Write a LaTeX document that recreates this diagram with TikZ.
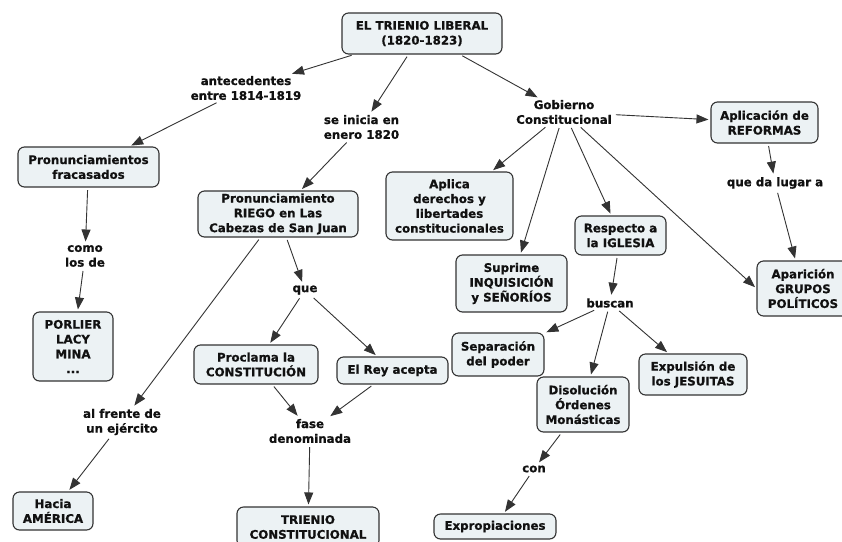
\documentclass[tikz,border=0pt]{standalone}
\usepackage{fontspec}
\setmainfont{DejaVu Sans}[BoldFeatures={FakeBold=0.8}]
\usetikzlibrary{arrows.meta}
\definecolor{boxfill}{HTML}{ECF2F4}
\definecolor{boxline}{HTML}{333333}
\definecolor{linec}{HTML}{333333}
\definecolor{txt}{HTML}{111111}
\tikzset{
  every node/.style={font=\bfseries\fontsize{11.8}{14.8}\selectfont, text=txt, align=center},
  box/.style={draw=boxline, fill=boxfill, line width=1.1pt, rounded corners=6.5pt, inner sep=2pt},
  lbl/.style={inner sep=1.5pt},
  arr/.style={draw=linec, line width=0.9pt, -{Triangle[length=12pt,width=9pt]}, shorten <=2.5pt, shorten >=2pt}
}
\begin{document}
\begin{tikzpicture}[x=1pt,y=-1pt]
\useasboundingbox[fill=white] (0,0) rectangle (842,541);
% boxes
\node[box, minimum width=160pt, minimum height=41pt] (top) at (422,33.5) {EL TRIENIO LIBERAL\\(1820-1823)};
\node[box, minimum width=107pt, minimum height=41pt] (aplref) at (764.5,122.5) {Aplicación de\\REFORMAS};
\node[box, minimum width=141pt, minimum height=40pt] (fracasados) at (88.5,167) {Pronunciamientos\\fracasados};
\node[box, minimum width=80pt, minimum height=69pt] (porlier) at (73,346.5) {PORLIER\\LACY\\MINA\\...};
\node[box, minimum width=160pt, minimum height=46pt] (riego) at (278,214) {Pronunciamiento\\RIEGO en Las\\Cabezas de San Juan};
\node[box, minimum width=127pt, minimum height=68pt] (aplica) at (449.5,206) {Aplica\\derechos y\\libertades\\constitucionales};
\node[box, minimum width=111pt, minimum height=57pt] (suprime) at (511.5,283.5) {Suprime\\INQUISICIÓN\\y SEÑORÍOS};
\node[box, minimum width=91pt, minimum height=39pt] (respecto) at (620.5,235.5) {Respecto a\\la IGLESIA};
\node[box, minimum width=92pt, minimum height=55pt] (apar) at (803,288.5) {Aparición\\GRUPOS\\POLÍTICOS};
\node[box, minimum width=92pt, minimum height=43pt] (separacion) at (498,354.5) {Separación\\del poder};
\node[box, minimum width=108pt, minimum height=41pt] (expulsion) at (693,374.5) {Expulsión de\\los JESUITAS};
\node[box, minimum width=92pt, minimum height=55pt] (disolucion) at (583,404.5) {Disolución\\Órdenes\\Monásticas};
\node[box, minimum width=122pt, minimum height=25pt] (expro) at (495,526.5) {Expropiaciones};
\node[box, minimum width=111pt, minimum height=27pt] (elrey) at (392.5,370.5) {El Rey acepta};
\node[box, minimum width=124pt, minimum height=39pt] (proclama) at (256,364.5) {Proclama la\\CONSTITUCIÓN};
\node[box, minimum width=142pt, minimum height=40pt] (trienioc) at (308,527) {TRIENIO\\CONSTITUCIONAL};
\node[box, minimum width=80pt, minimum height=38pt] (hacia) at (53,511) {Hacia\\AMÉRICA};
% link labels
\node[lbl] (antec) at (246,88) {antecedentes\\entre 1814-1819};
\node[lbl] (seinicia) at (361.5,127) {se inicia en\\enero 1820};
\node[lbl] (gob) at (564,112) {Gobierno\\Constitucional};
\node[lbl] (quelugar) at (775,183) {que da lugar a};
\node[lbl] (como) at (85,256) {como\\los de};
\node[lbl] (que) at (305,290) {que};
\node[lbl] (alfrente) at (122,422) {al frente de\\un ejército};
\node[lbl] (fase) at (310,431) {fase\\denominada};
\node[lbl] (buscan) at (610,303) {buscan};
\node[lbl] (con) at (534,469) {con};
% connectors
\draw[arr] (top) -- (antec);
\draw[arr] (antec) -- (fracasados);
\draw[arr] (top) -- (seinicia);
\draw[arr] (seinicia) -- (riego);
\draw[arr] (top) -- (gob);
\draw[arr] (gob) -- (aplref);
\draw[arr] (gob) -- (aplica);
\draw[arr] (gob) -- (suprime);
\draw[arr] (gob) -- (respecto);
\draw[arr] (gob) -- (apar.west);
\draw[arr] (aplref) -- (quelugar);
\draw[arr] (quelugar) -- (apar);
\draw[arr] (respecto) -- (buscan);
\draw[arr] (buscan) -- (separacion);
\draw[arr] (buscan) -- (disolucion);
\draw[arr] (buscan) -- (expulsion);
\draw[arr] (disolucion) -- (con);
\draw[arr] (con) -- (expro);
\draw[arr] (fracasados) -- (como);
\draw[arr] (como) -- (porlier);
\draw[arr] (riego) -- (que);
\draw[arr] (riego) -- (alfrente);
\draw[arr] (que) -- (proclama);
\draw[arr] (que) -- (elrey);
\draw[arr] (proclama) -- (fase);
\draw[arr] (elrey) -- (fase);
\draw[arr] (fase) -- (trienioc);
\draw[arr] (alfrente) -- (hacia);
\end{tikzpicture}
\end{document}
